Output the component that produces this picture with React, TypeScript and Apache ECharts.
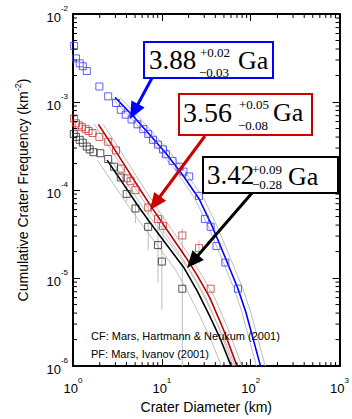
import React, { useEffect, useRef } from "react";
import * as echarts from "echarts";

const SANS = "Liberation Sans, Arial, Helvetica, sans-serif";
const SERIF = "Liberation Serif, Times New Roman, serif";

// Observed crater counts (D in km, cumulative N per km^2)
const blueD = [1.03, 1.08, 1.19, 1.29, 1.43, 1.98, 2.49, 3.05, 3.45, 3.92, 4.56, 5.31, 6.18, 7.02, 7.96, 9.04, 10.3, 11.1, 13.2, 15.8, 17.5, 20.3, 26.2, 30.5, 35.4, 41.2, 51.8, 71.9];
const blueN = [4.34e-3, 3.13e-3, 2.75e-3, 2.55e-3, 2.25e-3, 1.5e-3, 1.16e-3, 9.75e-4, 8.17e-4, 7.19e-4, 6.34e-4, 5.58e-4, 4.92e-4, 4.34e-4, 3.72e-4, 3.28e-4, 2.9e-4, 2.55e-4, 2.14e-4, 1.84e-4, 1.62e-4, 1.43e-4, 8.59e-5, 4.68e-5, 3.82e-5, 2.31e-5, 1.5e-5, 7.57e-6];

const redD = [1.03, 1.08, 1.16, 1.26, 1.39, 1.5, 1.66, 1.98, 2.49, 3.05, 3.45, 4.02, 4.45, 5.05, 7.02, 9.04, 10.3, 17.0, 26.2, 35.4];
const redN = [6.5e-4, 5.73e-4, 5.44e-4, 5.18e-4, 4.92e-4, 4.68e-4, 4.45e-4, 4.02e-4, 3.54e-4, 2.82e-4, 1.75e-4, 1.36e-4, 1.26e-4, 1.0e-4, 6.34e-5, 4.68e-5, 3.92e-5, 3.05e-5, 2.19e-5, 7.57e-6];

const blackD = [1.02, 1.08, 1.19, 1.29, 1.43, 1.54, 1.7, 2.03, 2.49, 2.9, 3.45, 4.02, 5.05, 7.02, 9.04, 10.0, 17.0];
const blackN = [4.34e-4, 4.02e-4, 3.72e-4, 3.45e-4, 3.12e-4, 2.9e-4, 2.69e-4, 2.62e-4, 2.25e-4, 1.84e-4, 1.39e-4, 9.04e-5, 6.18e-5, 3.82e-5, 2.37e-5, 1.54e-5, 7.57e-6];

// Error bars
const blackErrD = [4.02, 5.05, 7.02, 9.04, 10.0, 17.0];
const blackErrLo = [7.38e-5, 4.23e-5, 2.08e-5, 8.81e-6, 4.34e-6, 1e-6];
const blackErrHi = [1.11e-4, 7.38e-5, 4.8e-5, 3.28e-5, 2.25e-5, 1.54e-5];
const redErrD = [7.02, 9.04, 10.3, 17.0, 26.2];
const redErrLo = [5.18e-5, 3.28e-5, 2.55e-5, 1.88e-5, 1.46e-5];
const redErrHi = [7.38e-5, 5.73e-5, 5.18e-5, 3.63e-5, 2.69e-5];

// Isochron fits
const blueFitD = [2.97, 4.8, 7.02, 11.1, 17.0, 26.2, 36.3, 51.8, 71.9, 88.1, 129];
const blueFitN = [1.13e-3, 6.84e-4, 4.45e-4, 2.62e-4, 1.5e-4, 7.96e-5, 4.02e-5, 1.7e-5, 7.57e-6, 4.12e-6, 1e-6];
const blueLoD = [2.68, 4.34, 6.34, 10.0, 15.4, 23.6, 32.8, 46.8, 65.0, 79.6, 116];
const blueHiD = [3.37, 5.45, 7.96, 12.6, 19.3, 29.7, 41.2, 58.8, 81.6, 100, 146];

const redFitD = [1.93, 2.55, 3.28, 4.23, 5.73, 7.96, 11.6, 18.4, 24.9, 34.5, 49.2, 70.2];
const redFitN = [5.58e-4, 3.63e-4, 2.43e-4, 1.62e-4, 1.0e-4, 6.03e-5, 3.45e-5, 1.75e-5, 1.08e-5, 6.03e-6, 2.62e-6, 1e-6];
const redLoD = [1.74, 2.31, 2.97, 3.82, 5.18, 7.2, 10.5, 16.6, 22.5, 31.2, 44.5, 63.4];
const redHiD = [2.19, 2.9, 3.73, 4.8, 6.5, 9.04, 13.2, 20.8, 28.2, 39.2, 55.9, 79.6];

const blackFitD = [2.42, 3.12, 4.02, 5.45, 7.57, 11.6, 17.9, 24.9, 34.5, 45.6, 60.3];
const blackFitN = [2.19e-4, 1.5e-4, 1.03e-4, 6.5e-5, 4.12e-5, 2.31e-5, 1.29e-5, 7.19e-6, 3.72e-6, 2.03e-6, 1e-6];
const blackLoD = [1.88, 2.42, 3.12, 4.23, 5.88, 9.04, 13.9, 19.3, 26.8, 35.4, 46.8];
const blackHiD = [2.68, 3.45, 4.45, 6.03, 8.38, 12.9, 19.8, 27.5, 38.2, 50.5, 66.7];

const xExps = [0, 1, 2];
const yExps = [-6, -5, -4, -3];

const zip = (a: number[], b: number[]) => a.map((v, i) => [v, b[i]]);

function arrow(x1: number, y1: number, x2: number, y2: number, color: string) {
  const dx = x2 - x1, dy = y2 - y1;
  const L = Math.hypot(dx, dy);
  const ux = dx / L, uy = dy / L;
  const hl = 17, hw = 7.5;
  const bx = x2 - ux * hl, by = y2 - uy * hl;
  return [
    { type: "line", z: 100, shape: { x1, y1, x2: bx + ux * 3, y2: by + uy * 3 }, style: { stroke: color, lineWidth: 3 } },
    { type: "polygon", z: 100, shape: { points: [[x2, y2], [bx - uy * hw, by + ux * hw], [bx + uy * hw, by - ux * hw]] }, style: { fill: color } },
  ];
}

function txt(x: number, y: number, text: string, size: number) {
  return { type: "text", z: 101, x, y, style: { text, fontSize: size, fontFamily: SERIF, fill: "#000", align: "left", verticalAlign: "middle" } };
}

function box(x: number, y: number, w: number, h: number, color: string) {
  return { type: "rect", z: 100, shape: { x, y, width: w, height: h }, style: { fill: "#fff", stroke: color, lineWidth: 2 } };
}

export default function App() {
  const ref = useRef<HTMLDivElement>(null);
  useEffect(() => {
    const chart = echarts.init(ref.current!, null, { renderer: "svg" });

    const minor: number[][] = [];
    xExps.forEach((e) => { for (let m = 2; m <= 9; m++) minor.push([m * Math.pow(10, e), 1e-6, 0]); });
    yExps.forEach((e) => { for (let m = 2; m <= 9; m++) minor.push([1, m * Math.pow(10, e), 1]); });

    const rich = {
      b: { fontSize: 13, fontFamily: SANS, color: "#000", verticalAlign: "bottom", lineHeight: 19 },
      s: { fontSize: 8, fontFamily: SANS, color: "#000", verticalAlign: "top", lineHeight: 19 },
    };
    const fmt = (v: number) => `{b|10}{s|${Math.round(Math.log10(v))}}`;

    const gray = (d: number[], n: number[]) => ({
      type: "line", data: zip(d, n), symbol: "none", silent: true, z: 1,
      lineStyle: { color: "#bdbdbd", width: 1 },
    });
    const fit = (d: number[], n: number[], c: string) => ({
      type: "line", data: zip(d, n), symbol: "none", silent: true, z: 3,
      lineStyle: { color: c, width: 1.6 },
    });
    const pts = (d: number[], n: number[], c: string) => ({
      type: "scatter", data: zip(d, n), symbol: "rect", symbolSize: 7, z: 4,
      itemStyle: { color: "rgba(0,0,0,0)", borderColor: c, borderWidth: 1 },
    });
    const errs = (d: number[], lo: number[], hi: number[]) => ({
      type: "custom", z: 1, silent: true,
      data: d.map((v, i) => [v, lo[i], hi[i]]),
      renderItem: (params: any, api: any) => {
        const p1 = api.coord([api.value(0), api.value(1)]);
        const p2 = api.coord([api.value(0), api.value(2)]);
        return { type: "line", shape: { x1: p1[0], y1: p1[1], x2: p2[0], y2: p2[1] }, style: { stroke: "#bdbdbd", lineWidth: 1 } };
      },
    });

    const option: any = {
      animation: false,
      backgroundColor: "#fff",
      grid: { left: 73, top: 14, right: 6, bottom: 41 },
      xAxis: [
        {
          type: "log", logBase: 10, min: 1, max: 1000, splitNumber: 3, position: "bottom",
          axisLine: { show: true, lineStyle: { color: "#000", width: 2 } },
          axisTick: { show: true, inside: true, length: 7, lineStyle: { color: "#000", width: 1 } },
          axisLabel: { formatter: fmt, rich, margin: 10, showMaxLabel: true, showMinLabel: true },
          splitLine: { show: false },
          name: "Crater Diameter (km)", nameLocation: "middle", nameGap: 28,
          nameTextStyle: { fontSize: 14, fontFamily: SANS, color: "#000" },
        },
        {
          type: "log", logBase: 10, min: 1, max: 1000, splitNumber: 3, position: "top",
          axisLine: { show: true, lineStyle: { color: "#000", width: 2 } },
          axisTick: { show: true, inside: true, length: 7, lineStyle: { color: "#000", width: 1 } },
          axisLabel: { show: false }, splitLine: { show: false },
        },
      ],
      yAxis: [
        {
          type: "log", logBase: 10, min: 1e-6, max: 1e-2, splitNumber: 4, position: "left",
          axisLine: { show: true, lineStyle: { color: "#000", width: 2 } },
          axisTick: { show: true, inside: true, length: 7, lineStyle: { color: "#000", width: 1 } },
          axisLabel: { formatter: fmt, rich, margin: 5 },
          splitLine: { show: false },
          name: "Cumulative Crater Frequency (km{s|-2})", nameLocation: "middle", nameGap: 40, nameRotate: 90,
          nameTextStyle: {
            fontSize: 14, fontFamily: SANS, color: "#000",
            rich: {
              s: { fontSize: 9, fontFamily: SANS, color: "#000", verticalAlign: "top", lineHeight: 20 },
            },
          },
        },
        {
          type: "log", logBase: 10, min: 1e-6, max: 1e-2, splitNumber: 4, position: "right",
          axisLine: { show: true, lineStyle: { color: "#000", width: 2 } },
          axisTick: { show: true, inside: true, length: 7, lineStyle: { color: "#000", width: 1 } },
          axisLabel: { show: false }, splitLine: { show: false },
        },
      ],
      series: [
        gray(blueLoD, blueFitN), gray(blueHiD, blueFitN),
        gray(redLoD, redFitN), gray(redHiD, redFitN),
        gray(blackLoD, blackFitN), gray(blackHiD, blackFitN),
        errs(blackErrD, blackErrLo, blackErrHi),
        errs(redErrD, redErrLo, redErrHi),
        fit(blueFitD, blueFitN, "#0000ff"),
        fit(redFitD, redFitN, "#c00000"),
        fit(blackFitD, blackFitN, "#000000"),
        pts(blueD, blueN, "#3a3aff"),
        pts(redD, redN, "#cc3333"),
        pts(blackD, blackN, "#2a2a2a"),
        {
          type: "custom", z: 5, silent: true, data: minor,
          renderItem: (params: any, api: any) => {
            const kind = api.value(2);
            if (kind === 0) {
              const b = api.coord([api.value(0), 1e-6]);
              const t = api.coord([api.value(0), 1e-2]);
              return {
                type: "group", children: [
                  { type: "line", shape: { x1: b[0], y1: b[1], x2: b[0], y2: b[1] - 4 }, style: { stroke: "#000", lineWidth: 1 } },
                  { type: "line", shape: { x1: t[0], y1: t[1], x2: t[0], y2: t[1] + 4 }, style: { stroke: "#000", lineWidth: 1 } },
                ],
              };
            }
            const l = api.coord([1, api.value(1)]);
            const r = api.coord([1000, api.value(1)]);
            return {
              type: "group", children: [
                { type: "line", shape: { x1: l[0], y1: l[1], x2: l[0] + 4, y2: l[1] }, style: { stroke: "#000", lineWidth: 1 } },
                { type: "line", shape: { x1: r[0], y1: r[1], x2: r[0] - 4, y2: r[1] }, style: { stroke: "#000", lineWidth: 1 } },
              ],
            };
          },
        },
      ],
      graphic: [
        { type: "text", z: 101, x: 91, y: 336, style: { text: "CF: Mars, Hartmann & Neukum (2001)", fontSize: 11, fontFamily: SANS, fill: "#000", verticalAlign: "middle" } },
        { type: "text", z: 101, x: 91, y: 354, style: { text: "PF: Mars, Ivanov (2001)", fontSize: 11, fontFamily: SANS, fill: "#000", verticalAlign: "middle" } },
        ...arrow(152, 78, 130, 119, "#0000ff"),
        ...arrow(205, 136, 150, 210, "#cc0000"),
        ...arrow(252, 193, 187, 268, "#000000"),
        box(144, 42, 129, 36, "#0000ff"),
        txt(149, 60, "3.88", 27), txt(200, 52, "+0.02", 13), txt(199, 72, "\u22120.03", 13), txt(238, 60, "Ga", 26),
        box(179, 94, 133, 41, "#cc0000"),
        txt(183, 112, "3.56", 28), txt(239, 104, "+0.05", 13), txt(238, 125, "\u22120.08", 13), txt(273, 112, "Ga", 26),
        box(203, 157, 135, 36, "#000000"),
        txt(207, 175, "3.42", 27), txt(252, 169, "+0.09", 13), txt(252, 184, "\u22120.28", 13), txt(288, 176, "Ga", 26),
      ],
    };
    chart.setOption(option);
    return () => chart.dispose();
  }, []);
  return <div ref={ref} style={{ position: "fixed", left: 0, top: 0, width: 352, height: 419, background: "#fff" }} />;
}
